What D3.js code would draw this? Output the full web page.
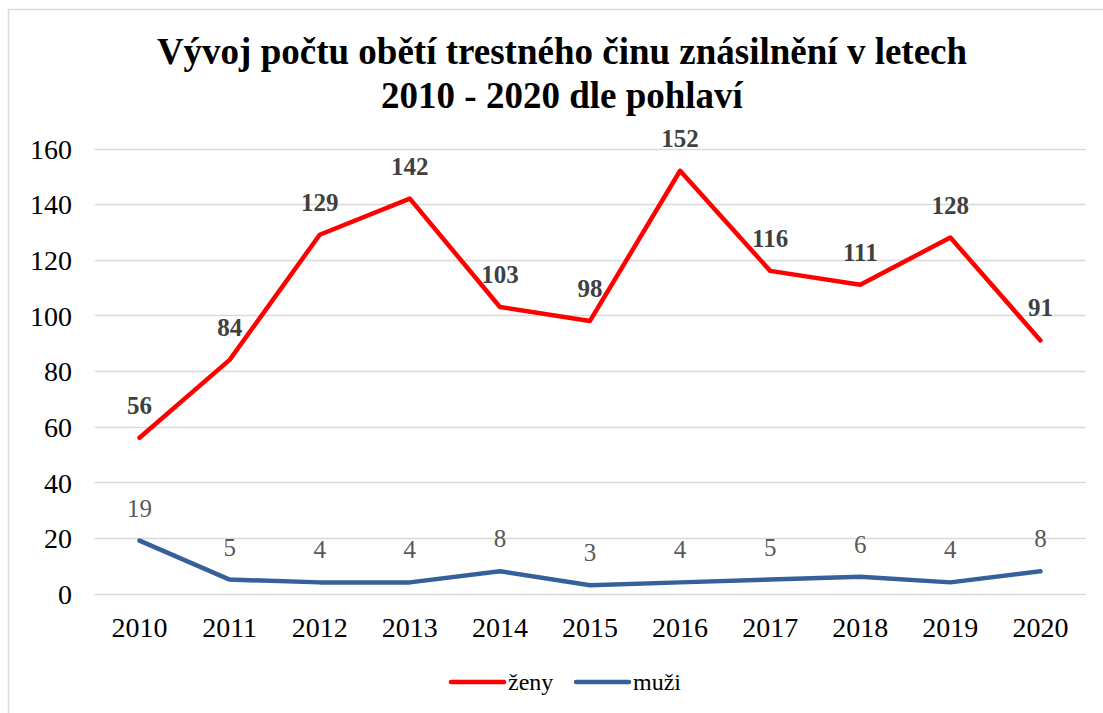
<!DOCTYPE html>
<html><head><meta charset="utf-8">
<script src="https://cdn.jsdelivr.net/npm/d3@7"></script>
<style>body{margin:0;background:#fff}svg{display:block}</style>
</head><body>
<script>
const years = ["2010","2011","2012","2013","2014","2015","2016","2017","2018","2019","2020"];
const zeny = [56,84,129,142,103,98,152,116,111,128,91];
const muzi = [19,5,4,4,8,3,4,5,6,4,8];
const yTicks = [0,20,40,60,80,100,120,140,160];
const titleLines = ["Vývoj počtu obětí trestného činu znásilnění v letech","2010 - 2020 dle pohlaví"];
const seriesNames = ["ženy","muži"];

const W=1103,H=713;
const svg=d3.select("body").append("svg").attr("width",W).attr("height",H);
const serif="Liberation Serif";
svg.append("rect").attr("x",8.5).attr("y",9.5).attr("width",1100).attr("height",710)
  .attr("fill","#fff").attr("stroke","#d9d9d9").attr("stroke-width",1.5);

const x=d3.scaleBand().domain(years).range([94.5,1085.5]);
const y=d3.scaleLinear().domain([0,160]).range([593.5,148.5]);

// title
svg.append("g").selectAll("text").data(titleLines).join("text")
  .attr("x",562).attr("y",(d,i)=>64+i*44).attr("text-anchor","middle")
  .attr("font-family",serif).attr("font-weight","bold").attr("font-size",37).attr("fill","#000")
  .text(d=>d);

// grid
svg.append("g").selectAll("line").data(yTicks).join("line")
  .attr("x1",94.5).attr("x2",1085.5).attr("y1",d=>Math.round(y(d))+0.5).attr("y2",d=>Math.round(y(d))+0.5)
  .attr("stroke","#d9d9d9").attr("stroke-width",1.5);

// y axis
const ya=svg.append("g").attr("transform","translate(72,0)")
  .call(d3.axisLeft(y).tickValues(yTicks).tickSize(0).tickPadding(0));
ya.select(".domain").remove();
ya.selectAll("text").attr("font-family",serif).attr("font-size",28).attr("fill","#000").attr("dy","0.35em");

// x axis
const xa=svg.append("g").attr("transform","translate(0,612)")
  .call(d3.axisBottom(x).tickSize(0).tickPadding(0));
xa.select(".domain").remove();
xa.selectAll("text").attr("font-family",serif).attr("font-size",28).attr("fill","#000").attr("dy","0.9em");

const cx=d=>x(d)+x.bandwidth()/2;
const line=d3.line().x((d,i)=>cx(years[i])).y(d=>y(d));
const series=[{name:seriesNames[0],vals:zeny,color:"#ff0000",bold:true,lc:"#404040"},
              {name:seriesNames[1],vals:muzi,color:"#36609a",bold:false,lc:"#595959"}];
series.forEach(s=>{
  svg.append("path").datum(s.vals).attr("d",line).attr("fill","none")
    .attr("stroke",s.color).attr("stroke-width",4.5).attr("stroke-linejoin","round").attr("stroke-linecap","round");
});
series.forEach(s=>{
  svg.append("g").selectAll("text").data(s.vals).join("text")
    .attr("x",(d,i)=>cx(years[i])).attr("y",d=>y(d)-24).attr("text-anchor","middle")
    .attr("font-family",serif).attr("font-size",25).attr("font-weight",s.bold?"bold":"normal")
    .attr("fill",s.lc).text(d=>d);
});

// legend
const leg=svg.append("g");
const lx=[451,576];
series.forEach((s,i)=>{
  leg.append("line").attr("x1",lx[i]).attr("x2",lx[i]+53).attr("y1",682).attr("y2",682)
    .attr("stroke",s.color).attr("stroke-width",4.5).attr("stroke-linecap","round");
  leg.append("text").attr("x",lx[i]+57).attr("y",690).attr("font-family",serif).attr("font-size",24)
    .attr("fill","#000").text(s.name);
});
</script>
</body></html>
